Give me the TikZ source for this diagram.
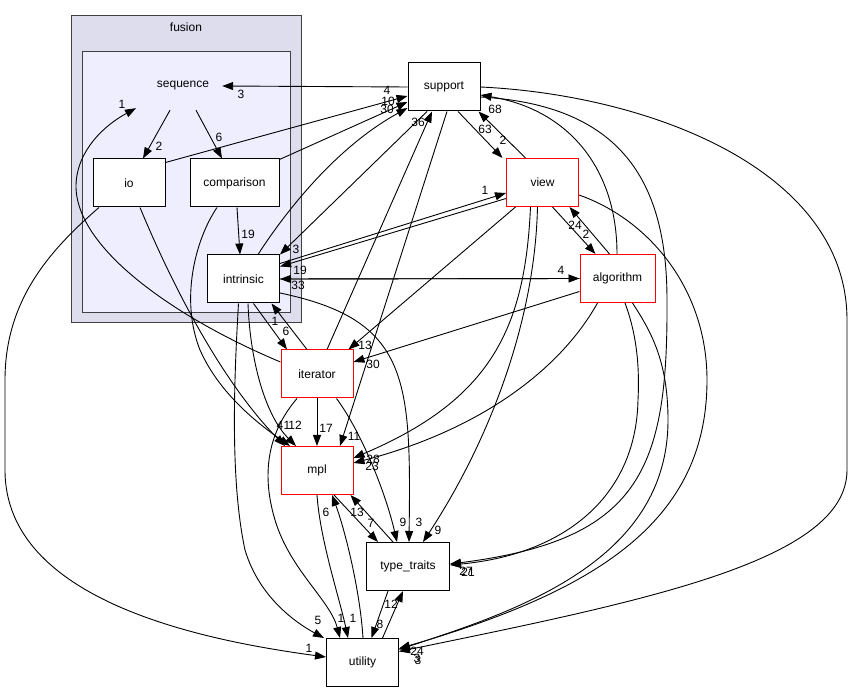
\documentclass[tikz,border=0pt]{standalone}
\usepackage{fontspec}
\setmainfont{Liberation Sans}
\usetikzlibrary{arrows.meta}
\definecolor{outerfill}{HTML}{DDDDEE}
\definecolor{innerfill}{HTML}{EEEEFF}
\definecolor{clusterline}{HTML}{404040}
\begin{document}
\begin{tikzpicture}[x=1pt,y=-1pt,
  box/.style={draw=black, fill=white, line width=1pt, minimum width=72pt, minimum height=48pt, inner sep=0pt, font=\fontsize{12}{14}\selectfont},
  redbox/.style={box, draw=red},
  plainbox/.style={minimum width=78pt, minimum height=48pt, inner sep=0pt, font=\fontsize{12}{14}\selectfont},
  dep/.style={line width=0.9pt, -{Triangle[length=11pt,width=8pt]}},
  lbl/.style={font=\fontsize{12}{14}\selectfont, inner sep=0pt},
  cluster/.style={draw=clusterline, line width=1pt}
]
\useasboundingbox (0,0) rectangle (852,692);
\fill[white] (0,0) rectangle (852,692);

% clusters
\path[cluster, fill=outerfill] (71.5,15.5) rectangle (301,323);
\node[lbl] (fusionlbl) at (186,27) {fusion};
\path[cluster, fill=innerfill] (82.5,51.5) rectangle (290.5,313);

% nodes
\node[plainbox] (sequence) at (183,86) {sequence};
\node[box] (io) at (129,183) {io};
\node[box, minimum width=89pt] (comparison) at (234.5,183) {comparison};
\node[box] (intrinsic) at (243.5,279) {intrinsic};
\node[box] (support) at (444,87) {support};
\node[redbox] (view) at (542.5,182.5) {view};
\node[redbox, minimum width=75pt] (algorithm) at (617.5,278.5) {algorithm};
\node[redbox] (iterator) at (317,374) {iterator};
\node[redbox] (mpl) at (317,470.5) {mpl};
\node[box, minimum width=83pt] (type_traits) at (408,566.5) {type\_traits};
\node[box] (utility) at (362.5,662.5) {utility};

% edges
\draw[dep] (support.west) -- (sequence.east);
\draw[dep] ([xshift=-13]sequence.south) -- ([xshift=14]io.north);
\draw[dep] ([xshift=13]sequence.south) -- ([xshift=-12.5]comparison.north);
\draw[dep] ([xshift=2.5]comparison.south) -- ([xshift=-3.5]intrinsic.north);
\draw[dep] ([yshift=12]iterator.west) .. controls (180,320) and (75,250) .. (76,185) .. controls (77,150) and (105,125) .. ([xshift=-47,yshift=2]sequence.south);

\draw[dep] ([yshift=-4]io.north east) -- ([yshift=-9]support.west);
\draw[dep] ([yshift=-1]comparison.north east) -- ([yshift=-15]support.west);
\draw[dep] ([xshift=14.5]intrinsic.north) .. controls (290,205) and (340,145) .. ([yshift=-21]support.west);
\draw[dep] ([xshift=10]iterator.north) -- ([xshift=-12]support.south);
\draw[dep] ([xshift=-17]support.south) -- (intrinsic.north east);
\draw[dep] ([xshift=14]support.south) -- ([xshift=-40]view.north);
\draw[dep] ([xshift=-17]view.north) -- ([xshift=-2]support.south east);
\draw[dep] ([xshift=-0.5]algorithm.north) .. controls (617,170) and (570,110) .. ([yshift=-8]support.east);
\draw[dep] ([yshift=-10]support.east) .. controls (620,105) and (667,180) .. (667,300) .. controls (668,470) and (640,540) .. ([yshift=2.5]type_traits.east);
\draw[dep] ([xshift=7.5]algorithm.south) .. controls (635,330) and (640,360) .. (638,400) .. controls (636,500) and (560,555) .. ([yshift=1.5]type_traits.east);
\draw[dep] ([xshift=15]algorithm.south) .. controls (650,330) and (668,360) .. (668,420) .. controls (668,560) and (520,610) .. ([yshift=13]utility.east);
\draw[dep] ([yshift=-12.5]view.east) .. controls (650,220) and (707,290) .. (707,380) .. controls (707,520) and (600,590) .. ([yshift=14]utility.east);
\draw[dep] (support.east) .. controls (650,95) and (847,170) .. (847,320) -- (847,470) .. controls (847,560) and (650,600) .. ([yshift=11]utility.east);

\draw[dep] ([yshift=15.5]intrinsic.east) -- ([yshift=-10.5]view.west);
\draw[dep] ([yshift=-16]view.west) -- ([yshift=12.5]intrinsic.east);
\draw[dep] (intrinsic.east) -- (algorithm.west);
\draw[dep] (algorithm.west) -- (intrinsic.east);
\draw[dep] ([xshift=10]view.south) -- ([xshift=-22]algorithm.north);
\draw[dep] ([xshift=-8]algorithm.north) -- ([xshift=27]view.south);

\draw[dep] ([xshift=10]intrinsic.south) -- ([xshift=-30]iterator.north);
\draw[dep] ([xshift=-10]iterator.north) -- ([xshift=28]intrinsic.south);
\draw[dep] ([xshift=-27]view.south) -- ([xshift=-5]iterator.north east);
\draw[dep] ([yshift=-13]algorithm.west) -- ([yshift=12]iterator.east);

\draw[dep] (iterator.south) -- (mpl.north);
\draw[dep] ([xshift=3]support.south) -- ([xshift=23]mpl.north);
\draw[dep] ([xshift=11]io.south) .. controls (170,280) and (220,380) .. ([xshift=-32]mpl.north);
\draw[dep] ([xshift=-17.5]comparison.south) .. controls (195,240) and (180,300) .. (200,350) .. controls (220,395) and (260,425) .. ([xshift=-27]mpl.north);
\draw[dep] ([xshift=4.5]intrinsic.south) .. controls (250,360) and (265,415) .. ([xshift=-21]mpl.north);
\draw[dep] ([xshift=-12]view.south) .. controls (525,330) and (490,400) .. ([yshift=12.5]mpl.east);
\draw[dep] ([xshift=-20]algorithm.south) .. controls (560,370) and (480,430) .. ([yshift=7.5]mpl.east);

\draw[dep] ([xshift=-5]intrinsic.south) .. controls (234,380) and (230,480) .. (245,550) .. controls (260,600) and (300,625) .. ([xshift=-2]utility.north west);
\draw[dep] ([xshift=-20]iterator.south) .. controls (270,430) and (260,470) .. (275,520) .. controls (290,570) and (330,600) .. ([xshift=14]utility.north west);
\draw[dep] (mpl.south) .. controls (320,540) and (340,600) .. ([xshift=22]utility.north west);
\draw[dep] ([xshift=0.5]utility.north) .. controls (360,590) and (345,530) .. ([xshift=15]mpl.south);
\draw[dep] ([xshift=17]mpl.south) -- ([xshift=-30]type_traits.north);
\draw[dep] ([xshift=-15]type_traits.north) -- ([xshift=-3]mpl.south east);
\draw[dep] ([xshift=-17]iterator.south east) .. controls (360,430) and (385,490) .. ([xshift=-11]type_traits.north);
\draw[dep] ([yshift=-14]intrinsic.east) .. controls (410,320) and (411,380) .. ([xshift=1]type_traits.north);
\draw[dep] ([xshift=-5]view.south) .. controls (535,320) and (490,440) .. ([xshift=15]type_traits.north);
\draw[dep] ([xshift=-20]type_traits.south) -- ([xshift=9]utility.north);
\draw[dep] ([xshift=20]utility.north) -- ([xshift=-5]type_traits.south);
\draw[dep] ([xshift=-30]io.south) .. controls (50,250) and (5,300) .. (5,380) -- (5,470) .. controls (5,600) and (200,640) .. ([yshift=5.5]utility.west);

% labels
\node[lbl] (l01) at (241,94) {3};
\node[lbl] (l02) at (122,104) {1};
\node[lbl] (l03) at (159,146) {2};
\node[lbl] (l04) at (219,137) {6};
\node[lbl] (l05) at (248,234) {19};
\node[lbl] (l06) at (387,90) {4};
\node[lbl] (l07) at (388,101) {10};
\node[lbl] (l08) at (387,109) {30};
\node[lbl] (l09) at (418,122) {36};
\node[lbl] (l10) at (495,109) {68};
\node[lbl] (l11) at (485,129) {63};
\node[lbl] (l12) at (503,140) {2};
\node[lbl] (l13) at (485,190) {1};
\node[lbl] (l14) at (296,249) {3};
\node[lbl] (l15) at (300,270) {19};
\node[lbl] (l16) at (298,285) {33};
\node[lbl] (l17) at (561,270) {4};
\node[lbl] (l18) at (575,225) {24};
\node[lbl] (l19) at (586,234) {2};
\node[lbl] (l20) at (275,321) {1};
\node[lbl] (l21) at (286,331) {6};
\node[lbl] (l22) at (365,345) {13};
\node[lbl] (l23) at (373,364) {30};
\node[lbl] (l24) at (280,425) {4};
\node[lbl] (l25) at (287,425) {1};
\node[lbl] (l26) at (295,425) {12};
\node[lbl] (l27) at (326,428) {17};
\node[lbl] (l28) at (354,436) {11};
\node[lbl] (l29) at (373,459) {28};
\node[lbl] (l30) at (372,466) {23};
\node[lbl] (l31) at (326,512) {6};
\node[lbl] (l32) at (357,512) {13};
\node[lbl] (l33) at (371,523) {7};
\node[lbl] (l34) at (403,522) {9};
\node[lbl] (l35) at (419,522) {3};
\node[lbl] (l36) at (438,530) {9};
\node[lbl] (l37) at (466,571) {27};
\node[lbl] (l38) at (468,572) {21};
\node[lbl] (l39) at (391,604) {12};
\node[lbl] (l40) at (380,624) {8};
\node[lbl] (l41) at (318,620) {5};
\node[lbl] (l42) at (341,618) {1};
\node[lbl] (l43) at (353,618) {1};
\node[lbl] (l44) at (309,648) {1};
\node[lbl] (l45) at (417,651) {24};
\node[lbl] (l46) at (417,658) {3};
\node[lbl] (l47) at (418,660) {3};
\end{tikzpicture}
\end{document}
